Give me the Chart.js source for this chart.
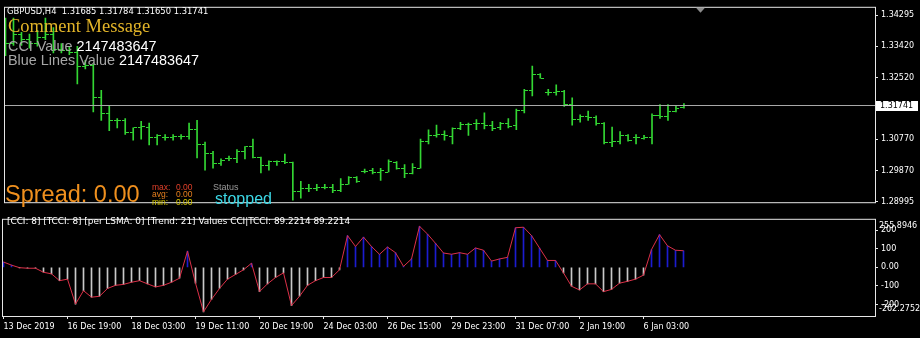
<!DOCTYPE html>
<html>
<head>
<meta charset="utf-8">
<script src="https://cdn.jsdelivr.net/npm/chart.js@4.4.1/dist/chart.umd.min.js"></script>
<style>
  html, body { margin: 0; padding: 0; background: #000; }
  #wrap { position: relative; width: 920px; height: 338px; background: #000; overflow: hidden; }
  #price { position: absolute; left: 0; top: 0; }
  #osc { position: absolute; left: 0; top: 212px; }
</style>
</head>
<body>
<div id="wrap">
  <canvas id="price" width="920" height="210"></canvas>
  <canvas id="osc" width="920" height="126"></canvas>
</div>
<script>
// GBPUSD H4 bars, oldest first
const opens = [
  1.33280, 1.33494, 1.33761, 1.33601, 1.33494, 1.33654, 1.33761, 1.33334, 1.33280, 1.33227,
  1.32827, 1.32880, 1.31945, 1.31492, 1.31305, 1.31305, 1.30958, 1.31091, 1.31091, 1.30824,
  1.30824, 1.30824, 1.30851, 1.30851, 1.31038, 1.30610, 1.30370, 1.30076, 1.30210, 1.30210,
  1.30424, 1.30557, 1.30237, 1.30023, 1.30130, 1.30130, 1.30103, 1.29275, 1.29356, 1.29356,
  1.29409, 1.29409, 1.29302, 1.29489, 1.29676, 1.29863, 1.29890, 1.29836, 1.29836, 1.30103,
  1.29943, 1.29783, 1.29943, 1.30717, 1.30877, 1.30904, 1.30851, 1.31064, 1.31198, 1.31225,
  1.31225, 1.31171, 1.31091, 1.31225, 1.31171, 1.31598, 1.32159, 1.32613, 1.32106, 1.32106,
  1.32132, 1.31759, 1.31331, 1.31411, 1.31385, 1.31225, 1.30664, 1.30717, 1.30877, 1.30824,
  1.30797, 1.30824, 1.31438, 1.31411, 1.31572, 1.31685
];
const highs = [
  1.34215, 1.34215, 1.33814, 1.33761, 1.33868, 1.34215, 1.33948, 1.33494, 1.33414, 1.33414,
  1.33013, 1.32907, 1.32159, 1.31705, 1.31358, 1.31358, 1.31091, 1.31278, 1.31225, 1.30904,
  1.30904, 1.30904, 1.30904, 1.31225, 1.31305, 1.30691, 1.30424, 1.30210, 1.30290, 1.30477,
  1.30557, 1.30771, 1.30263, 1.30157, 1.30157, 1.30343, 1.30120, 1.29569, 1.29489, 1.29489,
  1.29489, 1.29489, 1.29649, 1.29703, 1.29703, 1.29916, 1.29943, 1.29943, 1.30183, 1.30130,
  1.30050, 1.30076, 1.30771, 1.31038, 1.31171, 1.31011, 1.31091, 1.31251, 1.31225, 1.31331,
  1.31518, 1.31278, 1.31251, 1.31358, 1.31625, 1.32186, 1.32853, 1.32640, 1.32186, 1.32319,
  1.32159, 1.31945, 1.31465, 1.31572, 1.31438, 1.31240, 1.31118, 1.30984, 1.30904, 1.30904,
  1.30877, 1.31492, 1.31758, 1.31758, 1.31705, 1.31784
];
const lows = [
  1.33147, 1.33440, 1.33441, 1.33361, 1.33414, 1.33601, 1.33227, 1.33227, 1.33174, 1.32346,
  1.32773, 1.31545, 1.31305, 1.31011, 1.31091, 1.30904, 1.30744, 1.30771, 1.30610, 1.30610,
  1.30744, 1.30744, 1.30771, 1.30771, 1.30237, 1.29890, 1.29943, 1.30023, 1.30157, 1.30103,
  1.30210, 1.30237, 1.29809, 1.29890, 1.30023, 1.30076, 1.29035, 1.29089, 1.29275, 1.29302,
  1.29356, 1.29249, 1.29275, 1.29489, 1.29542, 1.29809, 1.29783, 1.29596, 1.29836, 1.29916,
  1.29676, 1.29783, 1.29943, 1.30637, 1.30824, 1.30744, 1.30637, 1.31038, 1.30877, 1.31038,
  1.31064, 1.31011, 1.31038, 1.31091, 1.31038, 1.31518, 1.31999, 1.32506, 1.32026, 1.32026,
  1.31705, 1.31171, 1.31251, 1.31305, 1.31171, 1.30637, 1.30557, 1.30637, 1.30717, 1.30637,
  1.30771, 1.30637, 1.31358, 1.31305, 1.31545, 1.31650
];
const closes = [
  1.33494, 1.33761, 1.33601, 1.33494, 1.33654, 1.33761, 1.33334, 1.33280, 1.33227, 1.32827,
  1.32880, 1.31945, 1.31492, 1.31305, 1.31305, 1.30958, 1.31091, 1.31144, 1.30824, 1.30877,
  1.30824, 1.30851, 1.30851, 1.31038, 1.30610, 1.30370, 1.30076, 1.30157, 1.30210, 1.30424,
  1.30557, 1.30237, 1.30023, 1.30130, 1.30130, 1.30103, 1.29275, 1.29356, 1.29356, 1.29409,
  1.29409, 1.29302, 1.29489, 1.29676, 1.29569, 1.29863, 1.29836, 1.29890, 1.30130, 1.29943,
  1.29783, 1.29970, 1.30717, 1.30877, 1.30904, 1.30877, 1.31064, 1.31198, 1.31198, 1.31225,
  1.31171, 1.31064, 1.31225, 1.31144, 1.31598, 1.32159, 1.32613, 1.32506, 1.32106, 1.32132,
  1.31759, 1.31331, 1.31411, 1.31385, 1.31225, 1.30664, 1.30717, 1.30877, 1.30744, 1.30824,
  1.30824, 1.31438, 1.31411, 1.31572, 1.31652, 1.31741
];

// CCI / TCCI values (same series drawn as line and histogram)
const cci = [
  28.5, 11.7, -2, -5, -5, -26.8, -35.2, -72.1, -63.7, -197.9,
  -125.8, -161, -156, -114, -97, -92, -80.5, -72, -89, -105.7,
  -97, -80.5, -58.7, 87.2, -85, -240, -172.7, -114, -63.7, -38.6,
  -13.4, 22, -130.8, -89, -55, -30, -206, -156, -97, -72,
  -55, -55, -13.4, 171, 112, 162.7, 112, 70, 109, 78.8,
  5, 45, 221, 179, 129, 77, 70.4, 78.8, 70.4, 104,
  92, 33.5, 45, 53.7, 213, 216, 171, 104, 36.9, 36.9,
  -30, -102, -122, -89, -89, -131, -119, -85.5, -75.5, -63.7,
  -42, 95.6, 176, 115.7, 92, 89.2214
];

const dateLabels = [
  "13 Dec 2019", "16 Dec 19:00", "18 Dec 03:00", "19 Dec 11:00", "20 Dec 19:00", "24 Dec 03:00",
  "26 Dec 15:00", "29 Dec 23:00", "31 Dec 07:00", "2 Jan 19:00", "6 Jan 03:00"
];
const priceTicks = [1.34295, 1.33420, 1.32520, 1.31645, 1.30770, 1.29870, 1.28995];
const cciTicks = [200, 100, 0, -100, -200];
const cciMax = 255.8946;
const cciMin = -262.2752;

const barGreen = "#33d633";
const frameColor = "#e6e6e6";
const axisFont = { family: "DejaVu Sans", size: 8 };
const last = closes.length - 1;

// little open/close ticks, drawn as point images
function tickImage(left) {
  const c = document.createElement("canvas");
  c.width = 7; c.height = 1;
  const g = c.getContext("2d");
  g.fillStyle = barGreen;
  g.fillRect(left ? 0 : 4, 0, 3, 1);
  return c;
}
const openTick = tickImage(true);
const closeTick = tickImage(false);

const frame = {
  id: "frame",
  afterDraw(chart) {
    const a = chart.chartArea, g = chart.ctx;
    g.save();
    g.strokeStyle = frameColor;
    g.lineWidth = 1;
    g.strokeRect(a.left - 0.5, a.top - 0.5, a.right - a.left + 1, a.bottom - a.top + 1);
    g.restore();
  }
};

const priceOverlay = {
  id: "priceOverlay",
  afterDatasetsDraw(chart) {
    const g = chart.ctx, a = chart.chartArea;
    const y = Math.round(chart.scales.y.getPixelForValue(closes[last])) + 0.5;
    g.save();
    g.strokeStyle = "#a8a8a8";
    g.beginPath(); g.moveTo(a.left, y); g.lineTo(a.right, y); g.stroke();
    g.restore();
  },
  afterDraw(chart) {
    const g = chart.ctx, a = chart.chartArea;
    const y = Math.round(chart.scales.y.getPixelForValue(closes[last]));
    g.save();
    // current price box
    g.fillStyle = "#fff";
    g.fillRect(a.right + 1, y - 4, 42, 10);
    g.fillStyle = "#000";
    g.font = "8px 'DejaVu Sans'";
    g.textBaseline = "middle";
    g.fillText(closes[last].toFixed(5), a.right + 5, y + 1);
    // chart shift marker
    g.fillStyle = "#8c8c8c";
    g.beginPath(); g.moveTo(696, a.top); g.lineTo(705, a.top); g.lineTo(700.5, a.top + 5); g.closePath(); g.fill();

    g.textBaseline = "alphabetic";
    g.fillStyle = "#fff";
    g.font = "8.4px 'DejaVu Sans'";
    g.fillText("GBPUSD,H4  " + [opens[last], highs[last], lows[last], closes[last]].map(v => v.toFixed(5)).join(" "), 7, 14);

    g.fillStyle = "#e2b428";
    g.font = "18.5px 'Liberation Serif'";
    g.fillText("Comment Message", 8, 32);

    g.font = "14.4px 'Liberation Sans'";
    g.fillStyle = "#a6a6a6";
    g.fillText("CCI Value ", 8, 51);
    let w = g.measureText("CCI Value ").width;
    g.fillStyle = "#fff";
    g.fillText("2147483647", 8 + w, 51);
    g.fillStyle = "#a6a6a6";
    g.fillText("Blue Lines Value ", 8, 65);
    w = g.measureText("Blue Lines Value ").width;
    g.fillStyle = "#fff";
    g.fillText("2147483647", 8 + w, 65);

    g.fillStyle = "#f0901e";
    g.font = "23.5px 'Liberation Sans'";
    g.fillText("Spread: 0.00", 5, 202);

    g.font = "8.5px 'Liberation Sans'";
    const rows = [["max:", "#e0402a", 190], ["avg:", "#e8801e", 197], ["min:", "#d8c800", 205]];
    rows.forEach(r => {
      g.fillStyle = r[1];
      g.fillText(r[0], 152, r[2]);
      g.fillText("0.00", 176, r[2]);
    });

    g.fillStyle = "#9a9a9a";
    g.font = "9px 'Liberation Sans'";
    g.fillText("Status", 213, 190);
    g.fillStyle = "#3cd8e6";
    g.font = "16px 'Liberation Sans'";
    g.fillText("stopped", 215, 204);
    g.restore();
  }
};

const oscOverlay = {
  id: "oscOverlay",
  afterDraw(chart) {
    const g = chart.ctx, s = chart.scales.y;
    g.save();
    g.fillStyle = "#fff";
    g.font = "8.9px 'DejaVu Sans'";
    g.textBaseline = "alphabetic";
    const v = cci[last].toFixed(4);
    g.fillText("[CCI: 8] [TCCI: 8] [per LSMA: 0] [Trend: 21] Values CCI|TCCI: " + v + " " + v, 7, 12);
    g.font = "8px 'DejaVu Sans'";
    g.textBaseline = "middle";
    g.fillText(cciMax.toFixed(4), s.left + 4, s.top + 6);
    g.fillText(cciMin.toFixed(4), s.left + 4, s.bottom - 7);
    g.restore();
  }
};

new Chart(document.getElementById("price"), {
  type: "bar",
  data: {
    datasets: [
      { type: "line", data: opens.map((v, i) => ({ x: i, y: v })), showLine: false,
        pointStyle: openTick, pointRadius: 3 },
      { type: "line", data: closes.map((v, i) => ({ x: i, y: v })), showLine: false,
        pointStyle: closeTick, pointRadius: 3 },
      { type: "bar", data: highs.map((h, i) => ({ x: i, y: [lows[i], h] })),
        backgroundColor: barGreen, barThickness: 1 }
    ]
  },
  options: {
    responsive: false,
    animation: false,
    events: [],
    layout: { padding: { left: 3, top: 2, right: 0, bottom: 1 } },
    plugins: { legend: { display: false }, tooltip: { enabled: false } },
    scales: {
      x: { type: "linear", display: false, offset: false, min: -0.0625, max: 108.9375,
           grid: { offset: false } },
      y: {
        type: "linear", position: "right", min: 1.28977, max: 1.34509,
        afterFit: s => { s.width = 45; },
        afterBuildTicks: s => { s.ticks = priceTicks.map(v => ({ value: v })); },
        ticks: { color: "#fff", font: axisFont, padding: 3, callback: v => v.toFixed(5) },
        grid: { display: true, drawOnChartArea: false, drawTicks: true, tickLength: 3, color: frameColor },
        border: { display: false }
      }
    }
  },
  plugins: [frame, priceOverlay]
});

new Chart(document.getElementById("osc"), {
  type: "bar",
  data: {
    datasets: [
      { type: "line", data: cci.map((v, i) => ({ x: i, y: v })), borderColor: "#dc3048",
        borderWidth: 1, pointRadius: 0, tension: 0 },
      { type: "bar", data: cci.map((v, i) => ({ x: i, y: v })),
        backgroundColor: cci.map(v => v >= 0 ? "#1c1cd0" : "#c8c8c8"), barThickness: 1 }
    ]
  },
  options: {
    responsive: false,
    animation: false,
    events: [],
    layout: { padding: { left: 3, top: 1, right: 0, bottom: 0 } },
    plugins: { legend: { display: false }, tooltip: { enabled: false } },
    scales: {
      x: {
        type: "linear", position: "bottom", offset: false, min: -0.0625, max: 108.9375,
        afterBuildTicks: s => { s.ticks = dateLabels.map((_, k) => ({ value: k * 8 })); },
        afterFit: s => { s.height = 22; },
        ticks: { autoSkip: false, maxRotation: 0, align: "start", color: "#fff", font: axisFont,
                 padding: 3, callback: (v, idx) => dateLabels[idx] },
        grid: { display: true, offset: false, drawOnChartArea: false, tickLength: 3, color: frameColor },
        border: { display: false }
      },
      y: {
        type: "linear", position: "right", min: cciMin, max: cciMax,
        afterFit: s => { s.width = 45; },
        afterBuildTicks: s => { s.ticks = cciTicks.map(v => ({ value: v })); },
        ticks: { color: "#fff", font: axisFont, padding: 3, callback: v => v === 0 ? "0.00" : String(v) },
        grid: { display: true, drawOnChartArea: false, drawTicks: true, tickLength: 3, color: frameColor },
        border: { display: false }
      }
    }
  },
  plugins: [frame, oscOverlay]
});
</script>
</body>
</html>
